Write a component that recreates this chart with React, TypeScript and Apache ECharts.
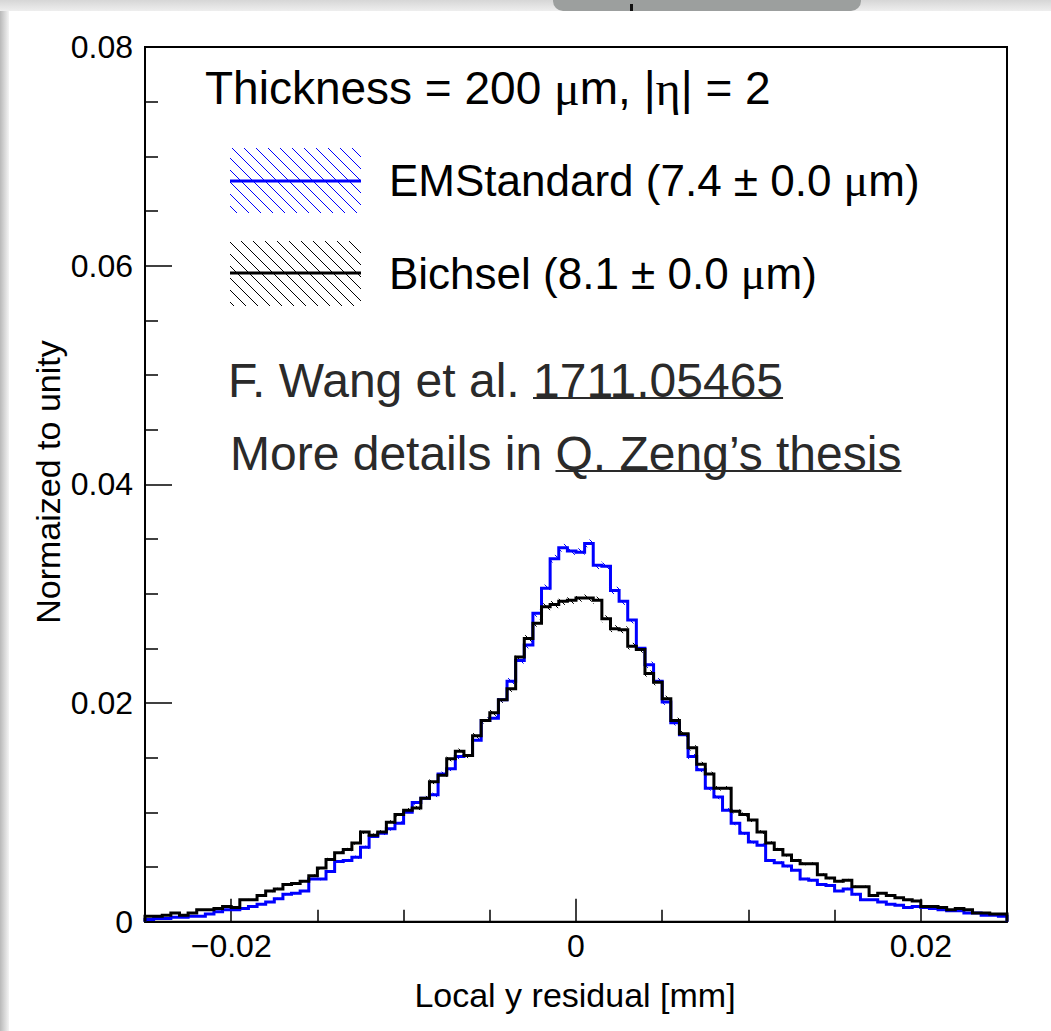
import React, { useEffect, useRef } from "react";
import * as echarts from "echarts";

// ---------- data ----------
const X_MIN = -0.025;
const X_MAX = 0.025;
const BIN_WIDTH = 0.0005;
const Y_MIN = 0;
const Y_MAX = 0.08;
const Y_TICK_STEP = 0.02;

const X_MAJOR_TICKS = [-0.02, 0, 0.02];
const X_MINOR_TICKS = [-0.015, -0.01, -0.005, 0.005, 0.01, 0.015];

// EMStandard histogram (blue), 100 bins from -0.025 to 0.025 mm
const EMSTANDARD: number[] = [
  0.0002, 0.0003, 0.0003, 0.0004, 0.0004, 0.0005, 0.0005, 0.0007, 0.0009, 0.0011,
  0.0011, 0.0012, 0.0014, 0.0016, 0.0018, 0.0021, 0.0025, 0.0026, 0.0028, 0.0039,
  0.0039, 0.0046, 0.0055, 0.0056, 0.0059, 0.0068, 0.0078, 0.0081, 0.0085, 0.0090,
  0.0100, 0.0109, 0.0113, 0.0116, 0.0135, 0.0140, 0.0151, 0.0152, 0.0166, 0.0184,
  0.0186, 0.0203, 0.0220, 0.0239, 0.0253, 0.0282, 0.0305, 0.0332, 0.0342, 0.0339,
  0.0338, 0.0346, 0.0326, 0.0325, 0.0303, 0.0293, 0.0276, 0.0250, 0.0235, 0.0220,
  0.0201, 0.0182, 0.0171, 0.0151, 0.0139, 0.0122, 0.0114, 0.0102, 0.0090, 0.0081,
  0.0073, 0.0070, 0.0056, 0.0054, 0.0051, 0.0047, 0.0039, 0.0038, 0.0034, 0.0033,
  0.0028, 0.0030, 0.0025, 0.0020, 0.0020, 0.0018, 0.0016, 0.0015, 0.0013, 0.0014,
  0.0013, 0.0012, 0.0011, 0.0010, 0.0010, 0.0008, 0.0008, 0.0006, 0.0006, 0.0005,
];

// Bichsel histogram (black)
const BICHSEL: number[] = [
  0.0005, 0.0005, 0.0006, 0.0008, 0.0006, 0.0008, 0.0011, 0.0011, 0.0012, 0.0014,
  0.0013, 0.0020, 0.0020, 0.0024, 0.0028, 0.0030, 0.0034, 0.0035, 0.0037, 0.0042,
  0.0049, 0.0057, 0.0063, 0.0066, 0.0072, 0.0082, 0.0079, 0.0082, 0.0091, 0.0098,
  0.0102, 0.0104, 0.0113, 0.0128, 0.0134, 0.0149, 0.0156, 0.0152, 0.0170, 0.0184,
  0.0191, 0.0203, 0.0213, 0.0242, 0.0259, 0.0273, 0.0288, 0.0290, 0.0293, 0.0294,
  0.0296, 0.0296, 0.0294, 0.0277, 0.0268, 0.0267, 0.0252, 0.0249, 0.0227, 0.0219,
  0.0204, 0.0184, 0.0172, 0.0159, 0.0144, 0.0135, 0.0122, 0.0122, 0.0101, 0.0098,
  0.0093, 0.0082, 0.0072, 0.0066, 0.0061, 0.0056, 0.0053, 0.0053, 0.0043, 0.0040,
  0.0037, 0.0038, 0.0032, 0.0032, 0.0024, 0.0026, 0.0024, 0.0022, 0.0020, 0.0019,
  0.0014, 0.0014, 0.0013, 0.0011, 0.0012, 0.0011, 0.0008, 0.0008, 0.0007, 0.0007,
];

// half-height of the hatched error band ~ ERR_SCALE * sqrt(content) (peak band ≈ ±0.00035)
const ERR_SCALE = 0.0019;

const SERIES_NAMES = ["EMStandard", "Bichsel"];
const SERIES_COLORS = ["#0000ff", "#000000"];
const LEGEND_TEXTS = ["EMStandard (7.4 ± 0.0 {g|μ}m)", "Bichsel (8.1 ± 0.0 {g|μ}m)"];
const TITLE_TEXT = "Thickness = 200 {g|μ}m, |{g|η}| = 2";
const CITE_PLAIN = "F. Wang et al. ";
const CITE_LINK = "1711.05465";
const MORE_PLAIN = "More details in ";
const MORE_LINK = "Q. Zeng’s thesis";
const X_TITLE = "Local y residual [mm]";
const Y_TITLE = "Normaized to unity";

// ---------- helpers ----------
const FONT = '"Liberation Sans", Arial, Helvetica, sans-serif';
const SERIF = '"Liberation Serif", "Times New Roman", serif';

function measure(text: string, size: number): number {
  const c = document.createElement("canvas").getContext("2d");
  if (!c) return text.length * size * 0.5;
  c.font = `${size}px ${FONT}`;
  return c.measureText(text).width;
}

function stepPoints(vals: number[]): number[][] {
  const pts: number[][] = [[X_MIN, 0]];
  vals.forEach((v, i) => pts.push([X_MIN + i * BIN_WIDTH, v]));
  pts.push([X_MIN + vals.length * BIN_WIDTH, vals[vals.length - 1]]);
  pts.push([X_MIN + vals.length * BIN_WIDTH, 0]);
  return pts;
}

// "\" hatch lines (x - y = c) clipped to a rectangle
function hatch(x0: number, y0: number, x1: number, y1: number, s: number) {
  const segs: { x1: number; y1: number; x2: number; y2: number }[] = [];
  const start = Math.ceil((x0 - y1) / s) * s;
  for (let c = start; c <= x1 - y0; c += s) {
    const xa = Math.max(x0, y0 + c);
    const xb = Math.min(x1, y1 + c);
    if (xb > xa) segs.push({ x1: xa, y1: xa - c, x2: xb, y2: xb - c });
  }
  return segs;
}

function bandSeries(vals: number[], color: string, name: string) {
  return {
    type: "custom",
    name: name + " error",
    silent: true,
    z: 1,
    encode: { x: 0, y: 1 },
    data: vals.map((v, i) => [X_MIN + i * BIN_WIDTH, v, ERR_SCALE * Math.sqrt(v)]),
    renderItem: (params: any, api: any) => {
      const xl = api.value(0);
      const v = api.value(1);
      const e = api.value(2);
      const p0 = api.coord([xl, v + e]);
      const p1 = api.coord([xl + BIN_WIDTH, v - e]);
      const segs = hatch(p0[0], p0[1], p1[0], p1[1], 10);
      return {
        type: "group",
        children: segs.map((sg) => ({
          type: "line",
          shape: sg,
          style: { stroke: color, lineWidth: 1 },
        })),
      };
    },
  };
}

function lineSeries(vals: number[], color: string, name: string) {
  return {
    type: "line",
    name,
    step: "end",
    symbol: "none",
    showSymbol: false,
    silent: true,
    z: 3,
    clip: false,
    data: stepPoints(vals),
    lineStyle: { color, width: 3, cap: "butt", join: "miter" },
  };
}

function legendBox(x: number, y: number, w: number, h: number, color: string, lineY: number) {
  const children: any[] = hatch(x, y, x + w, y + h, 12).map((sg) => ({
    type: "line",
    shape: sg,
    style: { stroke: color, lineWidth: 1 },
  }));
  children.push({
    type: "line",
    shape: { x1: x, y1: lineY, x2: x + w, y2: lineY },
    style: { stroke: color, lineWidth: 3 },
  });
  return { type: "group", children };
}

function text(t: string, x: number, y: number, size: number, extra: any = {}) {
  return {
    type: "text",
    x,
    y,
    z: 10,
    ...extra,
    style: {
      text: t,
      font: `${size}px ${FONT}`,
      fill: "#000",
      align: "left",
      verticalAlign: "middle",
      textAlign: "left",
      textVerticalAlign: "middle",
      rich: { g: { fontFamily: SERIF, fontSize: size + 2 } },
      ...(extra.style || {}),
    },
  };
}

export default function App() {
  const ref = useRef<HTMLDivElement>(null);

  useEffect(() => {
    document.body.style.margin = "0";
    if (!ref.current) return;
    const chart = echarts.init(ref.current, null, { renderer: "svg" });

    const citeX = 228;
    const citeY = 380;
    const citeSize = 48;
    const citeLinkX = citeX + measure(CITE_PLAIN, citeSize);
    const citeLinkW = measure(CITE_LINK, citeSize);
    const moreX = 230;
    const moreY = 453;
    const moreSize = 48;
    const moreLinkX = moreX + measure(MORE_PLAIN, moreSize);
    const moreLinkW = measure(MORE_LINK, moreSize);

    const axisFont = { fontFamily: FONT, fontSize: 32, color: "#000" };

    const option: any = {
      animation: false,
      backgroundColor: "#ffffff",
      grid: {
        left: 145,
        top: 47,
        width: 862,
        height: 874.7,
        show: true,
        borderColor: "#000",
        borderWidth: 2,
        backgroundColor: "transparent",
        containLabel: false,
      },
      xAxis: [
        {
          type: "value",
          min: X_MIN,
          max: X_MAX,
          position: "bottom",
          axisLine: { show: true, onZero: false, lineStyle: { color: "#000", width: 2 } },
          axisTick: {
            show: true,
            inside: true,
            length: 23,
            customValues: X_MAJOR_TICKS,
            lineStyle: { color: "#000", width: 1.5 },
          },
          axisLabel: {
            ...axisFont,
            margin: 8,
            customValues: X_MAJOR_TICKS,
            formatter: (v: number) =>
              Math.abs(v) < 1e-9 ? "0" : (v < 0 ? "\u2212" : "") + Math.abs(v).toFixed(2),
          },
          splitLine: { show: false },
        },
        {
          type: "value",
          min: X_MIN,
          max: X_MAX,
          position: "bottom",
          offset: 0,
          axisLine: { show: false },
          axisTick: {
            show: true,
            inside: true,
            length: 12,
            customValues: X_MINOR_TICKS,
            lineStyle: { color: "#000", width: 1.5 },
          },
          axisLabel: { show: false },
          splitLine: { show: false },
        },
      ],
      yAxis: {
        type: "value",
        min: Y_MIN,
        max: Y_MAX,
        interval: Y_TICK_STEP,
        axisLine: { show: true, onZero: false, lineStyle: { color: "#000", width: 2 } },
        axisTick: { show: true, inside: true, length: 27, lineStyle: { color: "#000", width: 1.5 } },
        minorTick: { show: true, splitNumber: 4, length: 13, lineStyle: { color: "#000", width: 1.5 } },
        axisLabel: {
          ...axisFont,
          margin: 12,
          formatter: (v: number) => (Math.abs(v) < 1e-9 ? "0" : v.toFixed(2)),
        },
        splitLine: { show: false },
      },
      series: [
        bandSeries(EMSTANDARD, SERIES_COLORS[0], SERIES_NAMES[0]),
        lineSeries(EMSTANDARD, SERIES_COLORS[0], SERIES_NAMES[0]),
        bandSeries(BICHSEL, SERIES_COLORS[1], SERIES_NAMES[1]),
        lineSeries(BICHSEL, SERIES_COLORS[1], SERIES_NAMES[1]),
      ],
      graphic: [
        // slide frame / shadow around the plot
        {
          type: "rect",
          z: -100,
          shape: { x: 0, y: 0, width: 9, height: 1031 },
          style: {
            fill: new echarts.graphic.LinearGradient(0, 0, 1, 0, [
              { offset: 0, color: "#b9b9b9" },
              { offset: 1, color: "#f4f4f4" },
            ]),
          },
        },
        {
          type: "rect",
          z: -100,
          shape: { x: 0, y: 0, width: 1051, height: 11 },
          style: {
            fill: new echarts.graphic.LinearGradient(0, 0, 0, 1, [
              { offset: 0, color: "#d6d6d6" },
              { offset: 1, color: "#eeeeee" },
            ]),
          },
        },
        {
          type: "rect",
          z: -99,
          shape: { x: 553, y: -10, width: 308, height: 21, r: 10 },
          style: { fill: "#9c9f9e" },
        },
        {
          type: "rect",
          z: -98,
          shape: { x: 630, y: 4, width: 3, height: 7 },
          style: { fill: "#111" },
        },
        // header and legend
        text(TITLE_TEXT, 205, 88, 46),
        legendBox(230, 148, 131, 65, SERIES_COLORS[0], 181),
        legendBox(230, 241, 131, 65, SERIES_COLORS[1], 273),
        text(LEGEND_TEXTS[0], 389, 180, 44),
        text(LEGEND_TEXTS[1], 389, 273, 44),
        // citations
        text(CITE_PLAIN + CITE_LINK, citeX, citeY, citeSize, { style: { fill: "#2a2a2a" } }),
        {
          type: "line",
          z: 10,
          shape: { x1: citeLinkX, y1: citeY + 18, x2: citeLinkX + citeLinkW, y2: citeY + 18 },
          style: { stroke: "#2a2a2a", lineWidth: 2 },
        },
        text(MORE_PLAIN + MORE_LINK, moreX, moreY, moreSize, { style: { fill: "#2a2a2a" } }),
        {
          type: "line",
          z: 10,
          shape: { x1: moreLinkX, y1: moreY + 18, x2: moreLinkX + moreLinkW, y2: moreY + 18 },
          style: { stroke: "#2a2a2a", lineWidth: 2 },
        },
        // axis titles
        text(X_TITLE, 575, 995, 34, { style: { align: "center", textAlign: "center" } }),
        text(Y_TITLE, 48, 482, 34, {
          rotation: Math.PI / 2,
          style: { align: "center", textAlign: "center" },
        }),
      ],
    };

    chart.setOption(option);
    return () => chart.dispose();
  }, []);

  return <div ref={ref} style={{ width: 1051, height: 1031 }} />;
}
